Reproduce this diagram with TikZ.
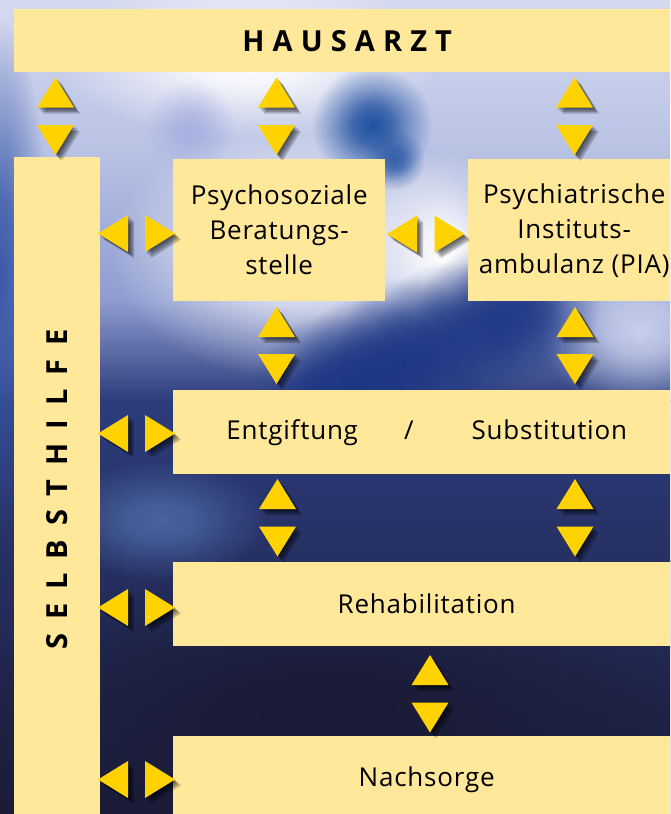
\documentclass[tikz,border=0pt]{standalone}
\usepackage{fontspec}
\setmainfont{Open Sans}
\usetikzlibrary{fadings}
\pgfdeclareradialshading{softshade}{\pgfpointorigin}{color(0bp)=(white); color(8bp)=(white!80!black); color(16bp)=(white!40!black); color(25bp)=(black); color(50bp)=(black)}
\pgfdeclarefading{softblob}{\pgfuseshading{softshade}}
\definecolor{boxy}{RGB}{255,232,153}
\definecolor{triy}{RGB}{255,210,0}
\definecolor{bgA}{RGB}{214,218,240}
\definecolor{bgB}{RGB}{184,194,228}
\definecolor{bgC}{RGB}{142,156,208}
\definecolor{bgD}{RGB}{44,60,124}
\definecolor{bgE}{RGB}{38,48,98}
\definecolor{bgF}{RGB}{26,27,54}
\definecolor{blobblue}{RGB}{32,80,160}
\definecolor{bloblav}{RGB}{150,160,220}
\definecolor{bandblue}{RGB}{28,54,132}
\definecolor{edgeblue}{RGB}{58,90,168}
\definecolor{patchblue}{RGB}{74,100,160}
\definecolor{lightlav}{RGB}{200,208,236}
\tikzset{
  box/.style={fill=boxy, inner sep=0pt, align=center, text=black,
    font=\fontsize{26}{35}\selectfont\addfontfeatures{LetterSpace=3}},
  hauscap/.style={font=\fontsize{29}{34}\selectfont\bfseries\addfontfeatures{LetterSpace=28}},
  selbstcap/.style={font=\fontsize{29}{34}\selectfont\bfseries\addfontfeatures{LetterSpace=48}},
  trishadow/.style={fill=black, opacity=0.2},
  trifill/.style={fill=triy},
  blob/.style={path fading=softblob}
}
\newcommand\ytri[3]{%
  \foreach \d in {1.5,3,4.5,6}{\fill[trishadow,shift={(#1+\d,#2+\d)},rotate=#3] (-18.5,15)--(18.5,15)--(0,-15)--cycle;}
  \fill[trifill,shift={(#1,#2)},rotate=#3] (-18.5,15)--(18.5,15)--(0,-15)--cycle;}
\newcommand\vpair[3]{\ytri{#1}{#2}{0}\ytri{#1}{#3}{180}}
\newcommand\hpair[3]{\ytri{#1}{#3}{90}\ytri{#2}{#3}{-90}}
\begin{document}
\begin{tikzpicture}[x=1pt,y=-1pt]
\useasboundingbox (0,0) rectangle (670,814);
\begin{scope}
\clip (0,0) rectangle (670,814);
% background
\fill[top color=bgA, bottom color=bgB] (0,-1) rectangle (670,151);
\fill[top color=bgB, bottom color=bgC] (0,150) rectangle (670,301);
\fill[top color=bgC, bottom color=bgD] (0,300) rectangle (670,401);
\fill[top color=bgD, bottom color=bgE] (0,400) rectangle (670,561);
\fill[top color=bgE, bottom color=bgF] (0,560) rectangle (670,815);
\fill[edgeblue, blob] (0,280) ellipse [x radius=50, y radius=260];
\fill[white, blob, opacity=0.9] (300,250) ellipse [x radius=190, y radius=130];
\fill[white, blob] (250,60) ellipse [x radius=190, y radius=80];
\fill[white, blob] (445,260) ellipse [x radius=80, y radius=110];
\fill[lightlav, blob] (640,330) ellipse [x radius=100, y radius=80];
\fill[blobblue, blob] (372,125) circle [radius=60];
\fill[bloblav, blob, opacity=0.6] (190,125) circle [radius=45];
\fill[blobblue, blob, opacity=0.8] (395,160) circle [radius=30];
\foreach \bx/\by in {330/388, 370/370, 410/352, 450/336, 490/320, 525/306}
  \fill[bandblue, blob, opacity=0.85] (\bx,\by) circle [radius=75];
\fill[patchblue, blob] (160,520) ellipse [x radius=110, y radius=60];
\fill[bgF, blob] (330,710) ellipse [x radius=360, y radius=150];
% boxes
\node[box, hauscap, minimum width=666, minimum height=63, anchor=north west] (haus) at (14,9) {HAUSARZT};
\node[box, selbstcap, rotate=90, minimum width=665, minimum height=86] (selbst) at (57,489.5) {SELBSTHILFE};
\node[box, minimum width=212, minimum height=142, anchor=north west] (psb) at (173,159) {Psychosoziale\\Beratungs-\\stelle};
\node[box, minimum width=212, minimum height=142, anchor=north west] (pia) at (468,159) {Psychiatrische\\Instituts-\\ambulanz (PIA)};
\node[box, minimum width=507, minimum height=84, anchor=north west] (entg) at (173,390) {Entgiftung\hspace{46pt}/\hspace{58pt}Substitution};
\node[box, minimum width=507, minimum height=84, anchor=north west] (reha) at (173,562) {Rehabilitation};
\node[box, minimum width=507, minimum height=88, anchor=north west] (nach) at (173,736) {Nachsorge};
% triangles
\vpair{55.5}{92.5}{140}
\vpair{276.5}{92.5}{140}
\vpair{574.5}{92.5}{140}
\vpair{276.5}{322}{369}
\vpair{575}{322}{369}
\vpair{277.5}{494}{541.5}
\vpair{575}{494}{541.5}
\vpair{430}{670}{717.5}
\hpair{113}{160}{233.5}
\hpair{402}{449.5}{234}
\hpair{113}{160}{433.5}
\hpair{113}{160}{607.5}
\hpair{113}{160}{779.5}
\end{scope}
\end{tikzpicture}
\end{document}
